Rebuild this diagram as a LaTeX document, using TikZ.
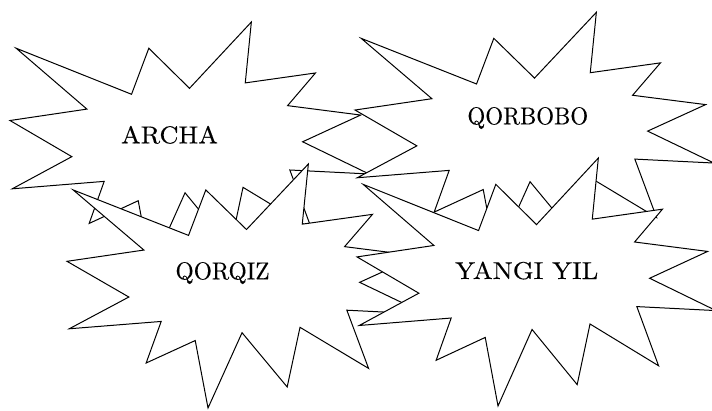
\documentclass[tikz,border=0pt]{standalone}
\usepackage{fontspec}
\setmainfont{lmroman10-regular}[Extension=.otf, FakeBold=0.2]
\newcommand\boomseal[4]{%
  \begin{scope}[shift={(#1,#2)}, x={(#3pt,0pt)}, y={(0pt,-#4pt)}]
    \draw[boom] (50,26.852) -- (67.231,0) -- (65.532,24.653) -- (85.093,20.634)
      -- (77.324,33.866) -- (97.671,37.671) -- (81.514,48.495) -- (100,61.528)
      -- (77.949,59.917) -- (84.005,83.773) -- (64.907,66.931) -- (61.329,91.375)
      -- (48.759,69.144) -- (39.282,100) -- (35.718,72.347) -- (22.046,81.560)
      -- (26.236,64.523) -- (0.625,67.532) -- (17.231,54.514) -- (0,39.884)
      -- (21.421,35.264) -- (1.713,10.625) -- (33.852,29.259) -- (38.667,10.625)
      -- cycle;
  \end{scope}}
\begin{document}
\begin{tikzpicture}[x=1pt,y=-1pt,
  boom/.style={draw=black, fill=white, line width=1pt, line join=miter},
  lbl/.style={font=\fontsize{24.4}{28}\selectfont, inner sep=0pt, anchor=base}]
\useasboundingbox (0,0) rectangle (712,410);
\boomseal{10}{22}{3.59}{2.47}
\node[lbl] (archa) at (169.5,143.3) {\scalebox{1.08}[1]{ARCHA}};
\boomseal{355}{12.3}{3.59}{2.45}
\node[lbl] (qorbobo) at (527.8,124.3) {\scalebox{0.94}[1]{QORBOBO}};
\boomseal{67}{164}{3.59}{2.44}
\node[lbl] (qorqiz) at (222.5,279.3) {\scalebox{0.96}[1]{QORQIZ}};
\boomseal{357}{158}{3.59}{2.48}
\node[lbl] (yangiyil) at (526.7,279) {\scalebox{1.09}[1]{YANGI YIL}};
\end{tikzpicture}
\end{document}
